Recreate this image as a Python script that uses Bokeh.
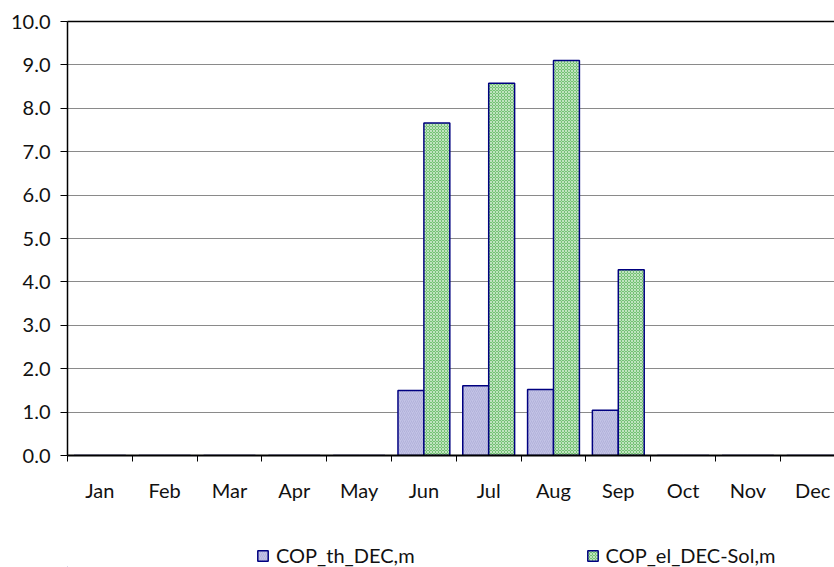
from bokeh.plotting import figure
from bokeh.layouts import column
from bokeh.models import Range1d, FixedTicker, LinearAxis, Legend, LegendItem, PrintfTickFormatter, ColumnDataSource
from bokeh.embed import file_html
from bokeh.resources import INLINE

months = ["Jan", "Feb", "Mar", "Apr", "May", "Jun", "Jul", "Aug", "Sep", "Oct", "Nov", "Dec"]
cop_th = [0, 0, 0, 0, 0, 1.50, 1.61, 1.52, 1.04, 0, 0, 0]
cop_el = [0, 0, 0, 0, 0, 7.66, 8.58, 9.10, 4.28, 0, 0, 0]
series_names = ["COP_th_DEC,m", "COP_el_DEC-Sol,m"]
y_ticks = [0, 1, 2, 3, 4, 5, 6, 7, 8, 9, 10]

FONT = "Lato"
FS = "20px"
idx = list(range(len(months)))
src = ColumnDataSource(dict(
    x_th=[i + 0.3 for i in idx],
    x_el=[i + 0.7 for i in idx],
    th=cop_th, el=cop_el,
))

TH_STYLE = dict(fill_color="#c3c3e6", line_color="#000080", line_width=1.5,
                hatch_pattern="right_diagonal_line", hatch_color="#b2b2da", hatch_scale=4, hatch_weight=1)
EL_STYLE = dict(fill_color="#74c274", line_color="#000080", line_width=1.5,
                hatch_pattern="diagonal_cross", hatch_color="#ffffff", hatch_alpha=0.55,
                hatch_scale=3, hatch_weight=1)

frame_w = 767
px_per_cat = 64.8
p = figure(width=834, height=520, output_backend="svg", toolbar_location=None,
           x_range=Range1d(0, frame_w / px_per_cat), y_range=Range1d(0, 10),
           min_border_left=67, min_border_top=21, min_border_right=0, min_border_bottom=65,
           x_axis_location=None, y_axis_location=None)
p.outline_line_color = None
p.background_fill_color = "white"

p.vbar(x="x_th", top="th", width=0.4, source=src, **TH_STYLE)
p.vbar(x="x_el", top="el", width=0.4, source=src, **EL_STYLE)

# y axis
yax = LinearAxis(ticker=FixedTicker(ticks=y_ticks), formatter=PrintfTickFormatter(format="%.1f"))
yax.major_tick_out = 7
yax.major_tick_in = 0
yax.minor_tick_line_color = None
yax.major_label_standoff = 10
yax.axis_line_color = "black"
yax.axis_line_width = 1.5
yax.major_label_text_font = FONT
yax.major_label_text_font_size = FS
yax.major_label_text_color = "#111111"
p.add_layout(yax, "left")

# x axis
xax = LinearAxis(ticker=FixedTicker(ticks=[i + 0.5 for i in idx], minor_ticks=list(range(13))))
xax.major_label_overrides = {i + 0.5: m for i, m in zip(idx, months)}
xax.major_tick_line_color = None
xax.major_tick_out = 0
xax.major_tick_in = 0
xax.minor_tick_out = 6
xax.minor_tick_in = 0
xax.minor_tick_line_color = "black"
xax.major_label_standoff = 16
xax.axis_line_color = "black"
xax.axis_line_width = 2
xax.major_label_text_font = FONT
xax.major_label_text_font_size = FS
xax.major_label_text_color = "#111111"
p.add_layout(xax, "below")

# top border line
top = LinearAxis(ticker=FixedTicker(ticks=[]))
top.major_tick_line_color = None
top.minor_tick_line_color = None
top.major_label_text_font_size = "0px"
top.axis_line_color = "black"
top.axis_line_width = 1.5
p.add_layout(top, "above")

p.ygrid.ticker = FixedTicker(ticks=y_ticks)
p.ygrid.grid_line_color = "#8a8a8a"
p.ygrid.grid_line_width = 1
p.xgrid.grid_line_color = None

# legend strip (separate small figure so the legend sits below the axis)
lg = figure(width=834, height=47, output_backend="svg", toolbar_location=None,
            x_range=Range1d(0, 1), y_range=Range1d(0, 1),
            min_border_left=0, min_border_right=0, min_border_top=0, min_border_bottom=0,
            x_axis_location=None, y_axis_location=None)
lg.outline_line_color = None
lg.xgrid.grid_line_color = None
lg.ygrid.grid_line_color = None
# proxy renderers kept outside the visible range; they only supply legend swatches
d1 = lg.vbar(x=[-5], top=[-5], width=0.4, **TH_STYLE)
d2 = lg.vbar(x=[-5], top=[-5], width=0.4, **EL_STYLE)
legend = Legend(items=[LegendItem(label=series_names[0], renderers=[d1]),
                       LegendItem(label=series_names[1], renderers=[d2])],
                orientation="horizontal", location=(189, 0), spacing=171,
                glyph_width=13, glyph_height=13, label_standoff=7,
                label_text_font=FONT, label_text_font_size=FS, label_text_color="#111111",
                border_line_color=None, background_fill_alpha=0, padding=0, margin=0)
lg.add_layout(legend, "center")

layout = column(p, lg, spacing=0)
open("out.html", "w").write(file_html(layout, INLINE))
